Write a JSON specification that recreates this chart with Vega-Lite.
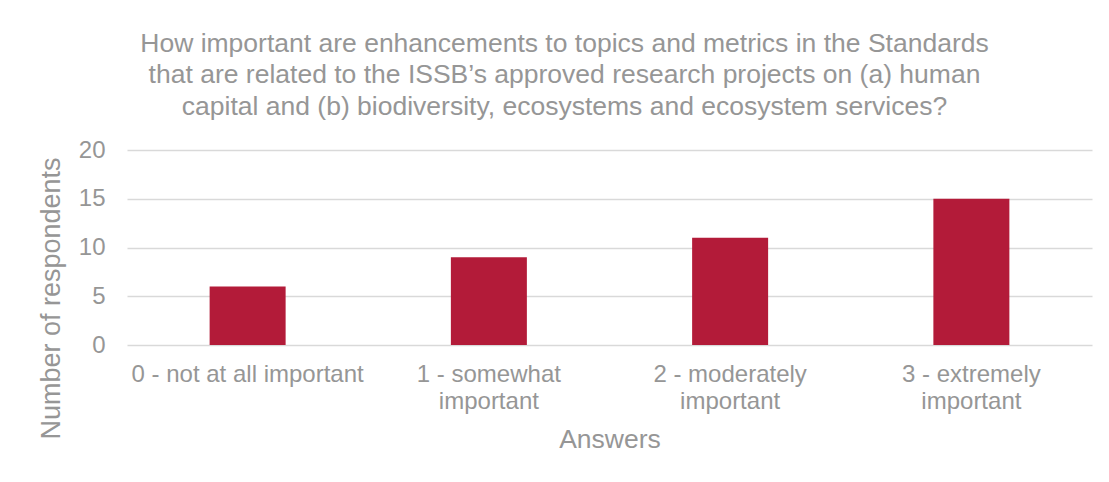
{
  "$schema": "https://vega.github.io/schema/vega-lite/v6.json",
  "width": 965,
  "height": 195,
  "padding": {"left": 37, "top": 30, "right": 17, "bottom": 10},
  "background": "white",
  "config": {"view": {"stroke": null}, "font": "Liberation Sans"},
  "title": {
    "text": [
      "How important are enhancements to topics and metrics in the Standards",
      "that are related to the ISSB’s approved research projects on (a) human",
      "capital and (b) biodiversity, ecosystems and ecosystem services?"
    ],
    "fontSize": 26.5,
    "fontWeight": "normal",
    "color": "#969696",
    "lineHeight": 31.5,
    "anchor": "middle",
    "frame": "group",
    "dx": -45,
    "offset": 18
  },
  "data": {
    "values": [
      {"answer": "0 - not at all important", "respondents": 6},
      {"answer": "1 - somewhat important", "respondents": 9},
      {"answer": "2 - moderately important", "respondents": 11},
      {"answer": "3 - extremely important", "respondents": 15}
    ]
  },
  "mark": {"type": "bar", "color": "#B31B39"},
  "encoding": {
    "x": {
      "field": "answer",
      "type": "nominal",
      "sort": null,
      "scale": {"paddingInner": 0.685, "paddingOuter": 0.3425},
      "axis": {
        "title": "Answers",
        "titleFontSize": 26.5,
        "titleFontWeight": "normal",
        "titleColor": "#969696",
        "titlePadding": 13,
        "labelAngle": 0,
        "labelFontSize": 24,
        "labelColor": "#969696",
        "labelPadding": 17,
        "labelLineHeight": 27,
        "labelLimit": 300,
        "labelExpr": "indexof(datum.value, 'not at all') >= 0 ? datum.value : [replace(datum.value, ' important', ''), 'important']",
        "domain": false,
        "ticks": false
      }
    },
    "y": {
      "field": "respondents",
      "type": "quantitative",
      "scale": {"domain": [0, 20]},
      "axis": {
        "title": "Number of respondents",
        "titleFontSize": 27,
        "titleFontWeight": "normal",
        "titleColor": "#969696",
        "titlePadding": 13,
        "titleY": 148,
        "values": [0, 5, 10, 15, 20],
        "labelFontSize": 24,
        "labelColor": "#969696",
        "labelPadding": 22,
        "gridColor": "#D9D9D9",
        "gridWidth": 1.3,
        "domain": false,
        "ticks": false
      }
    }
  }
}
